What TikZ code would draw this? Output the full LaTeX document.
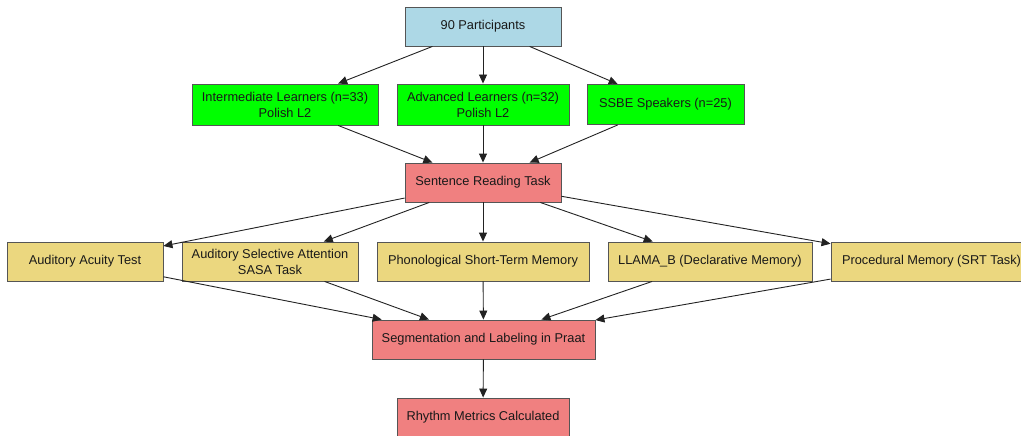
\documentclass[tikz,border=0pt]{standalone}
\usepackage{fontspec}
\setmainfont{Liberation Sans}
\usetikzlibrary{arrows.meta}
\definecolor{bluefill}{HTML}{ADD8E6}
\definecolor{greenfill}{HTML}{00FF00}
\definecolor{redfill}{HTML}{F08080}
\definecolor{yellowfill}{HTML}{EBD77F}
\definecolor{bordergray}{HTML}{555555}
\definecolor{edgegray}{HTML}{222222}
\begin{document}
\begin{tikzpicture}[x=1pt,y=-1pt,
  box/.style={draw=bordergray, line width=0.9pt, inner sep=0pt, align=center,
    font=\fontsize{12.8}{16}\selectfont, text=black!90},
  arr/.style={draw=edgegray, line width=0.9pt, -{Triangle[length=9pt,width=8pt]}}]
\useasboundingbox (0,0) rectangle (1021,436);
\clip (0,0) rectangle (1021,436);
\node[box, fill=bluefill, minimum width=156pt, minimum height=39pt] (top) at (483,26.5) {90 Participants};
\node[box, fill=greenfill, minimum width=186pt, minimum height=41pt] (inter) at (285,104.5) {Intermediate Learners (n=33)\\Polish L2};
\node[box, fill=greenfill, minimum width=172pt, minimum height=41pt] (adv) at (483,104.5) {Advanced Learners (n=32)\\Polish L2};
\node[box, fill=greenfill, minimum width=157pt, minimum height=40pt] (ssbe) at (665.5,104.5) {SSBE Speakers (n=25)};
\node[box, fill=redfill, minimum width=156pt, minimum height=39pt] (sent) at (483,182.5) {Sentence Reading Task};
\node[box, fill=yellowfill, minimum width=156pt, minimum height=39pt] (acu) at (85,261.5) {Auditory Acuity Test};
\node[box, fill=yellowfill, minimum width=176pt, minimum height=39pt] (sasa) at (270,261.5) {Auditory Selective Attention\\SASA Task};
\node[box, fill=yellowfill, minimum width=212pt, minimum height=39pt] (phon) at (483,261.5) {Phonological Short-Term Memory};
\node[box, fill=yellowfill, minimum width=204pt, minimum height=39pt] (llama) at (710,261.5) {LLAMA\_B (Declarative Memory)};
\node[box, fill=yellowfill, minimum width=201pt, minimum height=39pt] (proc) at (931.5,261.5) {Procedural Memory (SRT Task)};
\node[box, fill=redfill, minimum width=223pt, minimum height=39pt] (seg) at (483.5,339.5) {Segmentation and Labeling in Praat};
\node[box, fill=redfill, minimum width=172pt, minimum height=39pt] (rhy) at (483,417.5) {Rhythm Metrics Calculated};
\draw[arr] (top) -- (inter);
\draw[arr] (top) -- (adv);
\draw[arr] (top) -- (ssbe);
\draw[arr] (inter) -- (sent);
\draw[arr] (adv) -- (sent);
\draw[arr] (ssbe) -- (sent);
\draw[arr] (sent) -- (acu);
\draw[arr] (sent) -- (sasa);
\draw[arr] (sent) -- (phon);
\draw[arr] (sent) -- (llama);
\draw[arr] (sent) -- (proc);
\draw[arr] (acu) -- (seg);
\draw[arr] (sasa) -- (seg);
\draw[arr] (phon) -- (seg);
\draw[arr] (llama) -- (seg);
\draw[arr] (proc) -- (seg);
\draw[arr] (seg) -- (rhy);
\end{tikzpicture}
\end{document}
